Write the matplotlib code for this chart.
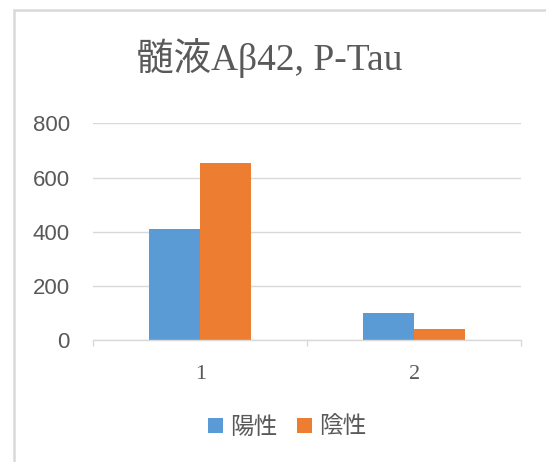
import numpy as np
import matplotlib.pyplot as plt
from matplotlib.patches import Rectangle


# Chart data
CATEGORIES = ['1', '2']
POSITIVE = [410, 98]     # 陽性
NEGATIVE = [653, 42]     # 陰性
SERIES_NAMES = ['陽性', '陰性']
Y_TICKS = [0, 200, 400, 600, 800]

TITLE = '髄液Aβ42, P-Tau'

BLUE = '#5B9BD5'
ORANGE = '#ED7D31'
TEXT_GRAY = '#595959'
LINE_GRAY = '#D9D9D9'

SERIF = ['Liberation Serif', 'Noto Sans CJK JP']
GOTHIC = ['Noto Sans CJK JP', 'DejaVu Sans']


fig = plt.figure(figsize=(5.46, 4.62), dpi=100)
ax = fig.add_axes([0.1709, 0.2641, 0.7833, 0.4686])

# outer chart frame (partly cropped off at right and bottom)
fig.patches.append(Rectangle((14 / 546, -0.1), 1.2, 1 - 9.5 / 462 + 0.1,
                             transform=fig.transFigure, fill=False,
                             edgecolor=LINE_GRAY, linewidth=1.8))

x = np.arange(len(CATEGORIES))
width = 0.239
ax.bar(x - width / 2, POSITIVE, width, color=BLUE, label=SERIES_NAMES[0], zorder=3)
ax.bar(x + width / 2, NEGATIVE, width, color=ORANGE, label=SERIES_NAMES[1], zorder=3)

ax.set_xlim(-0.5, len(CATEGORIES) - 0.5)
ax.set_ylim(0, 800)

# gridlines and spines
ax.yaxis.grid(True, color=LINE_GRAY, linewidth=1.0, zorder=0)
for side in ['left', 'right', 'top']:
    ax.spines[side].set_visible(False)
ax.spines['bottom'].set_color(LINE_GRAY)
ax.spines['bottom'].set_linewidth(1.0)
ax.spines['bottom'].set_zorder(4)

# ticks
ax.set_yticks(Y_TICKS)
ax.tick_params(axis='y', length=0, pad=17, labelcolor=TEXT_GRAY, labelsize=16)
for lbl in ax.get_yticklabels():
    lbl.set_family(['Liberation Sans', 'DejaVu Sans'])

ax.set_xticks(x)
ax.set_xticklabels(CATEGORIES)
ax.set_xticks(np.arange(-0.5, len(CATEGORIES)), minor=True)
ax.tick_params(axis='x', which='major', length=0, pad=18, labelcolor=TEXT_GRAY, labelsize=16)
ax.tick_params(axis='x', which='minor', length=4.5, width=1.0, color=LINE_GRAY)
for lbl in ax.get_xticklabels():
    lbl.set_family(SERIF)

# title
fig.text(269 / 546, 1 - 58 / 462, TITLE, ha='center', va='center',
         fontsize=27, color=TEXT_GRAY, family=SERIF)

# legend
leg = fig.legend(loc='center', bbox_to_anchor=(287 / 546, 1 - 427 / 462),
                 ncol=2, frameon=False, handlelength=0.62, handleheight=0.62,
                 handletextpad=0.3, columnspacing=0.85,
                 prop={'family': GOTHIC, 'size': 17})
for t in leg.get_texts():
    t.set_color(TEXT_GRAY)

fig.savefig('out.png', dpi=100)
